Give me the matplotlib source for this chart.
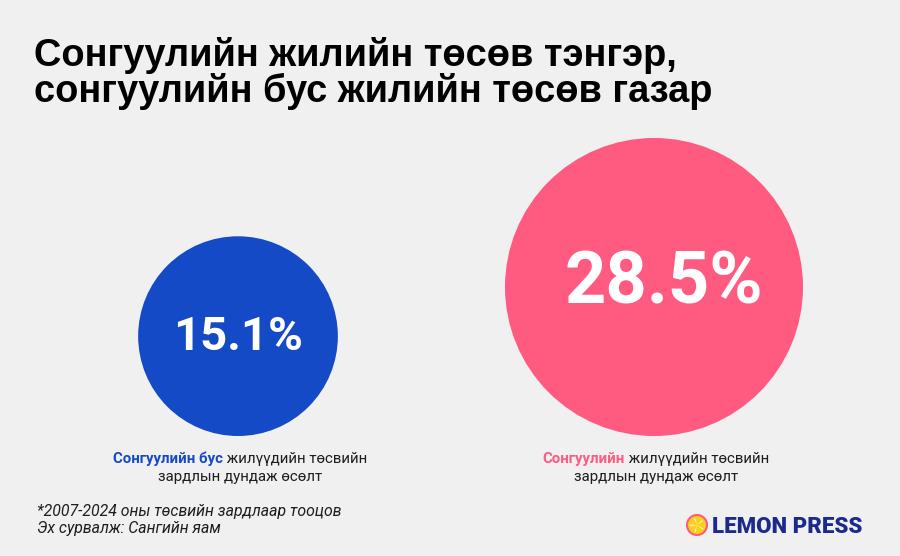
import matplotlib
matplotlib.use("Agg")
import matplotlib.pyplot as plt
from matplotlib.patches import Circle, Wedge

# --- data ---
values = [15.1, 28.5]
value_labels = ["15.1%", "28.5%"]
label_bold = ["Сонгуулийн бус", "Сонгуулийн"]
label_rest = [" жилүүдийн төсвийн", " жилүүдийн төсвийн"]
label_line2 = ["зардлын дундаж өсөлт", "зардлын дундаж өсөлт"]
title_lines = ["Сонгуулийн жилийн төсөв тэнгэр,",
               "сонгуулийн бус жилийн төсөв газар"]
notes = ["*2007-2024 оны төсвийн зардлаар тооцов", "Эх сурвалж: Сангийн яам"]

colors = ["#154AC6", "#FF5A80"]
bg = "#F0F0F0"
dark = "#1E1E1E"

plt.rcParams["font.family"] = ["Roboto", "DejaVu Sans"]

W, H = 900, 556
fig = plt.figure(figsize=(9, 5.56), dpi=100, facecolor=bg)
ax = fig.add_axes([0, 0, 1, 1])
ax.set_xlim(0, W)
ax.set_ylim(H, 0)
ax.set_aspect("equal")
ax.axis("off")
ax.set_facecolor(bg)

# bubble layout: centres in x, common bottom line
cx = [238, 654]
bottom = 436
r_max = 149
vmax = max(values)
num_base = [350, 304]
num_dx = [0, 10]
num_size = [34, 52]

for i, v in enumerate(values):
    r = r_max * (v / vmax) ** 0.63
    ax.add_patch(Circle((cx[i], bottom - r), r, color=colors[i], lw=0))
    ax.text(cx[i] + num_dx[i], num_base[i], value_labels[i], color="white",
            fontsize=num_size[i], fontweight="bold", ha="center", va="baseline")

# titles
for k, line in enumerate(title_lines):
    ax.text(34, 66 + 36 * k, line, fontsize=27.4, fontweight="bold",
            family=["Liberation Sans", "DejaVu Sans"],
            color="black", ha="left", va="baseline")

# two-colour labels under the bubbles
fig.canvas.draw()
rend = fig.canvas.get_renderer()
for i in range(len(values)):
    t1 = ax.text(0, 463, label_bold[i], fontsize=10.8, fontweight="bold",
                 color=colors[i], ha="left", va="baseline")
    t2 = ax.text(0, 463, label_rest[i], fontsize=10.8, color=dark,
                 ha="left", va="baseline")
    w1 = t1.get_window_extent(rend).width
    w2 = t2.get_window_extent(rend).width
    x0 = cx[i] + 2 - (w1 + w2) / 2
    t1.set_x(x0)
    t2.set_x(x0 + w1)
    ax.text(cx[i] + 2, 481, label_line2[i], fontsize=10.8, color=dark,
            ha="center", va="baseline")

# footnote
for k, line in enumerate(notes):
    ax.text(37, 516 + 16.5 * k, line, fontsize=11.4, fontstyle="italic",
            color=dark, ha="left", va="baseline")

# logo
ax.add_patch(Circle((697, 525), 10, facecolor="#F7D21E", edgecolor="#FF5A80", lw=1.5))
for a in range(0, 360, 72):
    ax.add_patch(Wedge((697, 525), 7, a + 30, a + 38, color="white", lw=0))
ax.text(712, 533, "LEMON PRESS", fontsize=16, fontweight="black",
        color="#1B2A8C", ha="left", va="baseline")

fig.savefig("out.png", dpi=100, facecolor=bg)
